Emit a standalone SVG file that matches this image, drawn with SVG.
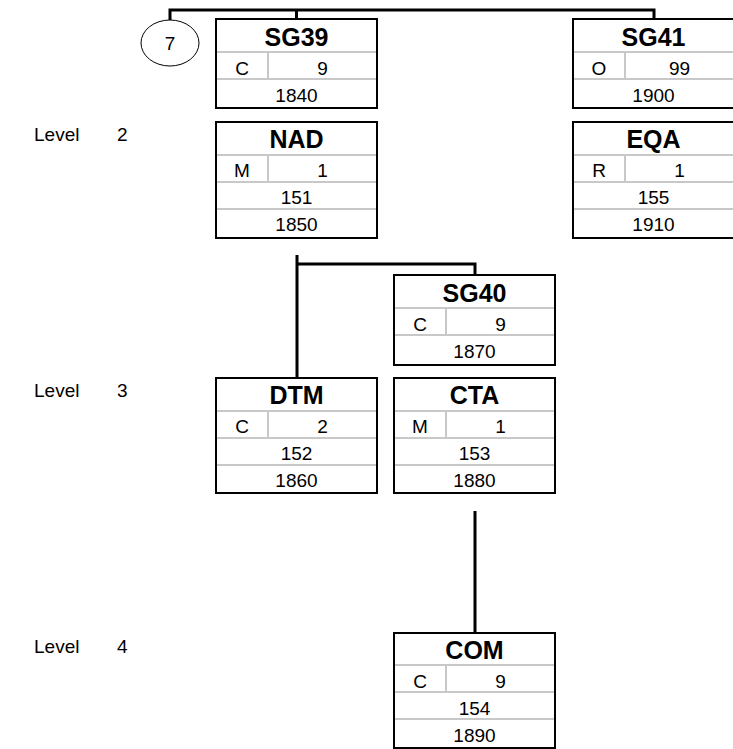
<svg xmlns="http://www.w3.org/2000/svg" width="733" height="749" viewBox="0 0 733 749">
<style>
.bx{fill:#fff;stroke:#000;stroke-width:2}
.dv{stroke:#c8c8c8;stroke-width:2;fill:none}
.cn{stroke:#000;stroke-width:3;fill:none}
.h{font-family:"Liberation Sans",Arial,sans-serif;font-weight:bold;font-size:25px;text-anchor:middle;fill:#000}
.t{font-family:"Liberation Sans",Arial,sans-serif;font-size:19px;text-anchor:middle;fill:#000}
.l{font-family:"Liberation Sans",Arial,sans-serif;font-size:19px;fill:#000}
</style>
<rect width="733" height="749" fill="#fff"/>
<g id="connectors">
<path class="cn" d="M170 20V10H654V19M296.5 10V19"/>
<path class="cn" d="M297 255V378M297 264H475V275"/>
<path class="cn" d="M475 511V633"/>
</g>
<g id="levels">
<text class="l" x="34" y="141">Level</text><text class="l" x="117" y="141">2</text>
<text class="l" x="34" y="397">Level</text><text class="l" x="117" y="397">3</text>
<text class="l" x="34" y="653">Level</text><text class="l" x="117" y="653">4</text>
</g>
<g id="ref7">
<ellipse cx="170" cy="43" rx="29" ry="23" fill="#fff" stroke="#000" stroke-width="1"/>
<text class="t" x="170" y="50">7</text>
</g>
<g id="SG39">
<rect class="bx" x="216" y="19" width="161" height="89"/>
<path class="dv" d="M217 52H376M217 79H376M268 52V79"/>
<text class="h" x="296.5" y="46">SG39</text>
<text class="t" x="242" y="75">C</text><text class="t" x="322.5" y="75">9</text>
<text class="t" x="296.5" y="102">1840</text>
</g>
<g id="SG41">
<rect class="bx" x="573" y="19" width="161" height="89"/>
<path class="dv" d="M574 52H733M574 79H733M625 52V79"/>
<text class="h" x="653.5" y="46">SG41</text>
<text class="t" x="599" y="75">O</text><text class="t" x="679.5" y="75">99</text>
<text class="t" x="653.5" y="102">1900</text>
</g>
<g id="NAD">
<rect class="bx" x="216" y="122" width="161" height="116"/>
<path class="dv" d="M217 155H376M217 182H376M217 209H376M268 155V182"/>
<text class="h" x="296.5" y="148">NAD</text>
<text class="t" x="242" y="177">M</text><text class="t" x="322.5" y="177">1</text>
<text class="t" x="296.5" y="204">151</text>
<text class="t" x="296.5" y="231">1850</text>
</g>
<g id="EQA">
<rect class="bx" x="573" y="122" width="161" height="116"/>
<path class="dv" d="M574 155H733M574 182H733M574 209H733M625 155V182"/>
<text class="h" x="653.5" y="148">EQA</text>
<text class="t" x="599" y="177">R</text><text class="t" x="679.5" y="177">1</text>
<text class="t" x="653.5" y="204">155</text>
<text class="t" x="653.5" y="231">1910</text>
</g>
<g id="SG40">
<rect class="bx" x="394" y="275" width="161" height="90"/>
<path class="dv" d="M395 308H554M395 335H554M446 308V335"/>
<text class="h" x="474.5" y="302">SG40</text>
<text class="t" x="420" y="331">C</text><text class="t" x="500.5" y="331">9</text>
<text class="t" x="474.5" y="358">1870</text>
</g>
<g id="DTM">
<rect class="bx" x="216" y="378" width="161" height="115"/>
<path class="dv" d="M217 411H376M217 438H376M217 465H376M268 411V438"/>
<text class="h" x="296.5" y="404">DTM</text>
<text class="t" x="242" y="433">C</text><text class="t" x="322.5" y="433">2</text>
<text class="t" x="296.5" y="460">152</text>
<text class="t" x="296.5" y="487">1860</text>
</g>
<g id="CTA">
<rect class="bx" x="394" y="378" width="161" height="115"/>
<path class="dv" d="M395 411H554M395 438H554M395 465H554M446 411V438"/>
<text class="h" x="474.5" y="404">CTA</text>
<text class="t" x="420" y="433">M</text><text class="t" x="500.5" y="433">1</text>
<text class="t" x="474.5" y="460">153</text>
<text class="t" x="474.5" y="487">1880</text>
</g>
<g id="COM">
<rect class="bx" x="394" y="633" width="161" height="115"/>
<path class="dv" d="M395 665H554M395 692H554M395 719H554M446 665V692"/>
<text class="h" x="474.5" y="659">COM</text>
<text class="t" x="420" y="688">C</text><text class="t" x="500.5" y="688">9</text>
<text class="t" x="474.5" y="715">154</text>
<text class="t" x="474.5" y="742">1890</text>
</g>
</svg>
